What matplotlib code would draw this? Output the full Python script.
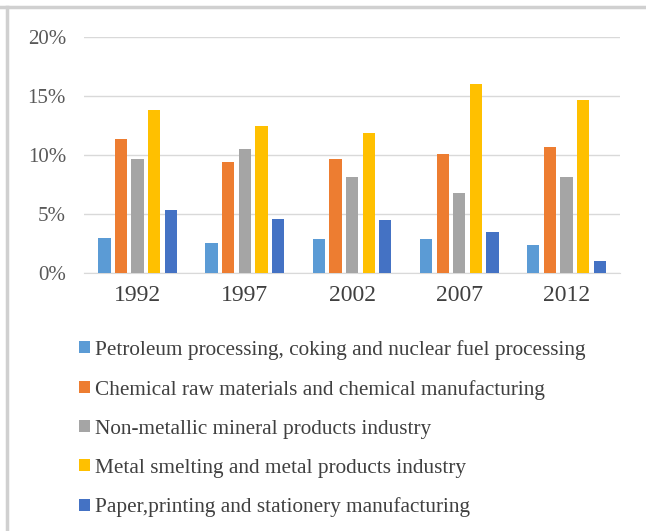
import matplotlib.pyplot as plt
import numpy as np
from matplotlib.lines import Line2D
from matplotlib.ticker import PercentFormatter

# Data (share, %)
years = ["1992", "1997", "2002", "2007", "2012"]
series_names = [
    "Petroleum processing, coking and nuclear fuel processing",
    "Chemical raw materials and chemical manufacturing",
    "Non-metallic mineral products industry",
    "Metal smelting and metal products industry",
    "Paper,printing and stationery manufacturing",
]
petroleum = [3.0, 2.5, 2.85, 2.85, 2.35]
chemical = [11.4, 9.4, 9.65, 10.1, 10.65]
non_metallic = [9.65, 10.55, 8.1, 6.8, 8.1]
metal = [13.85, 12.5, 11.9, 16.05, 14.7]
paper = [5.3, 4.55, 4.45, 3.45, 1.0]

values = [petroleum, chemical, non_metallic, metal, paper]
colors = ["#5B9BD5", "#ED7D31", "#A5A5A5", "#FFC000", "#4472C4"]

plt.rcParams["font.family"] = ["Liberation Serif", "DejaVu Serif"]

fig = plt.figure(figsize=(6.46, 5.31), dpi=100)
ax = fig.add_axes([0.130, 0.486, 0.830, 0.444])

x = np.arange(len(years))
step = 0.155
width = 0.115
for i, (vals, name, c) in enumerate(zip(values, series_names, colors)):
    ax.bar(x + (i - 2) * step, vals, width, color=c, label=name, zorder=3)

ax.set_xlim(-0.5, len(years) - 0.5)
ax.set_ylim(0, 20)
ax.set_yticks([0, 5, 10, 15, 20])
ax.yaxis.set_major_formatter(PercentFormatter(decimals=0))
ax.set_xticks(x)
ax.set_xticklabels(years)
ax.grid(axis="y", color="#d9d9d9", linewidth=1, zorder=0)
for s in ["top", "right", "left"]:
    ax.spines[s].set_visible(False)
ax.spines["bottom"].set_color("#d9d9d9")
ax.tick_params(axis="y", length=0, pad=13, labelsize=15, labelcolor="#595959")
ax.tick_params(axis="x", length=0, pad=9, labelsize=17, labelcolor="#404040")

fig.legend(
    loc="upper left",
    bbox_to_anchor=(0.093, 0.396),
    frameon=False,
    fontsize=15.3,
    labelcolor="#404040",
    handlelength=0.5,
    handleheight=0.5,
    handletextpad=0.25,
    labelspacing=0.94,
)

# gray frame lines of the original screenshot
fig.add_artist(Line2D([0, 1], [0.987, 0.987], transform=fig.transFigure,
                      color="#d0d0d0", linewidth=2.5))
fig.add_artist(Line2D([0.011, 0.011], [0, 0.987], transform=fig.transFigure,
                      color="#d0d0d0", linewidth=2.5))

fig.savefig("out.png", dpi=100)
